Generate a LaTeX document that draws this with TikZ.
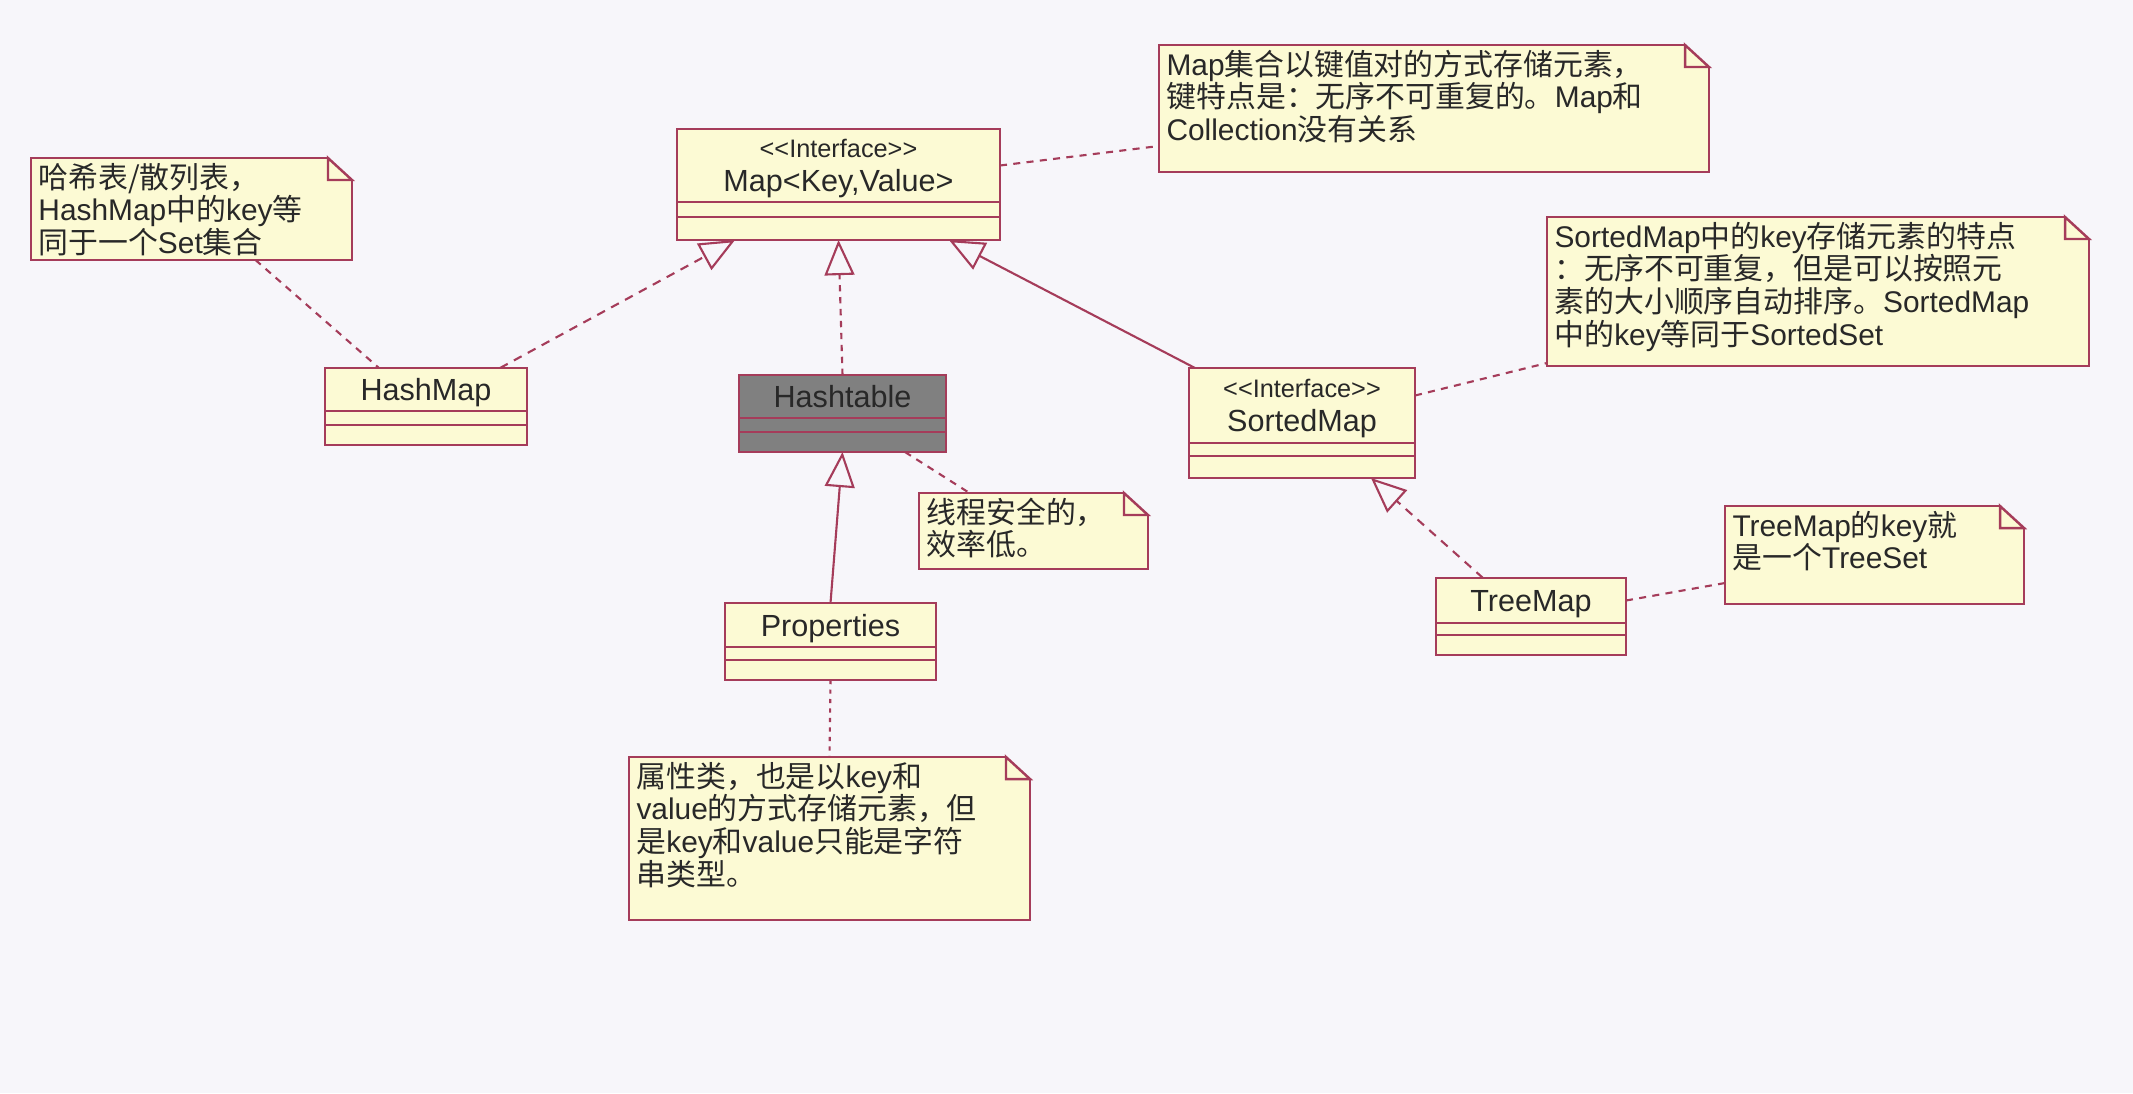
\documentclass[tikz,border=0pt]{standalone}
\usepackage{fontspec}
\setmainfont{Liberation Sans}
\newfontfamily\cjk{Noto Sans CJK SC}
\newcommand{\zh}[1]{{\cjk #1}}
\definecolor{umlRed}{RGB}{165, 60, 90}
\definecolor{umlYellow}{RGB}{252, 250, 212}
\definecolor{umlGray}{RGB}{128, 128, 128}
\definecolor{umlPage}{RGB}{247, 246, 250}
\definecolor{umlText}{RGB}{40, 40, 40}
\usetikzlibrary{positioning, arrows.meta}

\begin{document}
\begin{tikzpicture}[
    classname/.style={rectangle, draw=umlRed, fill=umlYellow, line width=0.7pt,
                      inner sep=0pt, outer sep=0pt, anchor=north west, align=center,
                      text depth=0pt, text=umlText, font=\fontsize{8.7}{9.5}\selectfont},
    classpart/.style={rectangle, draw=umlRed, fill=umlYellow, line width=0.7pt,
                      inner sep=0pt, outer sep=0pt},
    notebox/.style 2 args={rectangle, draw=umlRed, fill=umlYellow, line width=0.7pt,
                      inner xsep=0.075cm, inner ysep=0pt, outer sep=0pt,
                      anchor=north west, align=left, text width=#1,
                      text height=0.30cm, text depth=#2,
                      text=umlText, font=\fontsize{8.5}{9.3}\selectfont},
    notelink/.style={draw=umlRed, line width=0.6pt, dash pattern=on 2pt off 1.8pt},
    realize/.style={draw=umlRed, line width=0.6pt, dash pattern=on 2.5pt off 2pt,
                    -{Triangle[open, length=10pt, width=8.5pt]}},
    generalize/.style={draw=umlRed, line width=0.6pt,
                       -{Triangle[open, length=10pt, width=8.5pt]}},
  ]
    \fill[umlPage] (0,0) rectangle (21.33,-10.93);

    % classes
    \node[classname, minimum width=3.23cm, minimum height=0.73cm] (mapName) at (6.77,-1.29)
      {{\fontsize{7.2}{8}\selectfont <{}<Interface>{}>}\\ Map<Key,Value>};
    \node[classpart, minimum width=3.23cm, minimum height=0.15cm, below=0pt of mapName] (mapMid) {};
    \node[classpart, minimum width=3.23cm, minimum height=0.23cm, below=0pt of mapMid] (mapBot) {};

    \node[classname, minimum width=2.02cm, minimum height=0.43cm] (hashName) at (3.25,-3.68) {HashMap};
    \node[classpart, minimum width=2.02cm, minimum height=0.14cm, below=0pt of hashName] (hashMid) {};
    \node[classpart, minimum width=2.02cm, minimum height=0.20cm, below=0pt of hashMid] (hashBot) {};

    \node[classname, fill=umlGray, minimum width=2.07cm, minimum height=0.43cm] (tableName) at (7.39,-3.75) {Hashtable};
    \node[classpart, fill=umlGray, minimum width=2.07cm, minimum height=0.14cm, below=0pt of tableName] (tableMid) {};
    \node[classpart, fill=umlGray, minimum width=2.07cm, minimum height=0.20cm, below=0pt of tableMid] (tableBot) {};

    \node[classname, minimum width=2.26cm, minimum height=0.75cm] (sortedName) at (11.89,-3.68)
      {{\fontsize{7.2}{8}\selectfont <{}<Interface>{}>}\\ SortedMap};
    \node[classpart, minimum width=2.26cm, minimum height=0.13cm, below=0pt of sortedName] (sortedMid) {};
    \node[classpart, minimum width=2.26cm, minimum height=0.22cm, below=0pt of sortedMid] (sortedBot) {};

    \node[classname, minimum width=2.11cm, minimum height=0.44cm] (propName) at (7.25,-6.03) {Properties};
    \node[classpart, minimum width=2.11cm, minimum height=0.13cm, below=0pt of propName] (propMid) {};
    \node[classpart, minimum width=2.11cm, minimum height=0.20cm, below=0pt of propMid] (propBot) {};

    \node[classname, minimum width=1.90cm, minimum height=0.45cm] (treeName) at (14.36,-5.78) {TreeMap};
    \node[classpart, minimum width=1.90cm, minimum height=0.12cm, below=0pt of treeName] (treeMid) {};
    \node[classpart, minimum width=1.90cm, minimum height=0.20cm, below=0pt of treeMid] (treeBot) {};

    % notes
    \node[notebox={5.35cm}{0.97cm}] (noteMap) at (11.59,-0.45) {
      Map\zh{集合以键值对的方式存储元素，}\\
      \zh{键特点是：无序不可重复的。}Map\zh{和}\\
      Collection\zh{没有关系}
    };
    \node[notebox={3.06cm}{0.72cm}] (noteHash) at (0.31,-1.58) {
      \zh{哈希表/散列表，}\\
      HashMap\zh{中的}key\zh{等}\\
      \zh{同于一个}Set\zh{集合}
    };
    \node[notebox={2.14cm}{0.46cm}] (noteSafe) at (9.19,-4.93) {
      \zh{线程安全的，}\\
      \zh{效率低。}
    };
    \node[notebox={3.86cm}{1.33cm}] (noteProp) at (6.29,-7.57) {
      \zh{属性类，也是以}key\zh{和}\\
      value\zh{的方式存储元素，但}\\
      \zh{是}key\zh{和}value\zh{只能是字符}\\
      \zh{串类型。}
    };
    \node[notebox={5.27cm}{1.19cm}] (noteSorted) at (15.47,-2.17) {
      SortedMap\zh{中的}key\zh{存储元素的特点}\\
      \zh{：无序不可重复，但是可以按照元}\\
      \zh{素的大小顺序自动排序。}SortedMap\\
      \zh{中的}key\zh{等同于}SortedSet
    };
    \node[notebox={2.84cm}{0.68cm}] (noteTree) at (17.25,-5.06) {
      TreeMap\zh{的}key\zh{就}\\
      \zh{是一个}TreeSet
    };

    % folded corners
    \foreach \n in {noteMap, noteHash, noteSafe, noteProp, noteSorted, noteTree} {
      \fill[umlPage] ([shift={(-0.264cm,0.022cm)}]\n.north east) -- ([shift={(0.024cm,0.022cm)}]\n.north east)
        -- ([shift={(0.024cm,-0.242cm)}]\n.north east) -- cycle;
      \draw[umlRed, line width=0.7pt] ([xshift=-0.24cm]\n.north east) |- ([yshift=-0.22cm]\n.north east) -- cycle;
    }

    % inheritance
    \draw[realize] ([xshift=0.74cm]hashName.north) -- ([xshift=0.58cm]mapBot.south west);
    \draw[realize, dash pattern=on 1.8pt off 1.6pt] (tableName.north) -- (mapBot.south);
    \draw[generalize] ([xshift=0.06cm]sortedName.north west) -- ([xshift=-0.51cm]mapBot.south east);
    \draw[generalize] (propName.north) -- (tableBot.south);
    \draw[realize] ([xshift=-0.48cm]treeName.north) -- ([xshift=0.69cm]sortedBot.south);

    % note links
    \draw[notelink] (mapName.east) -- ([yshift=0.26cm]noteMap.south west);
    \draw[notelink] ([xshift=0.64cm]noteHash.south) -- ([xshift=-0.47cm]hashName.north);
    \draw[notelink] ([xshift=-0.41cm]tableBot.south east) -- ([xshift=-0.64cm]noteSafe.north);
    \draw[notelink, dash pattern=on 1.2pt off 1.5pt] (propBot.south) -- (noteProp.north);
    \draw[notelink] ([yshift=0.1cm]sortedName.east) -- ([yshift=0.03cm]noteSorted.south west);
    \draw[notelink] (treeName.east) -- ([yshift=0.21cm]noteTree.south west);
  \end{tikzpicture}
\end{document}
